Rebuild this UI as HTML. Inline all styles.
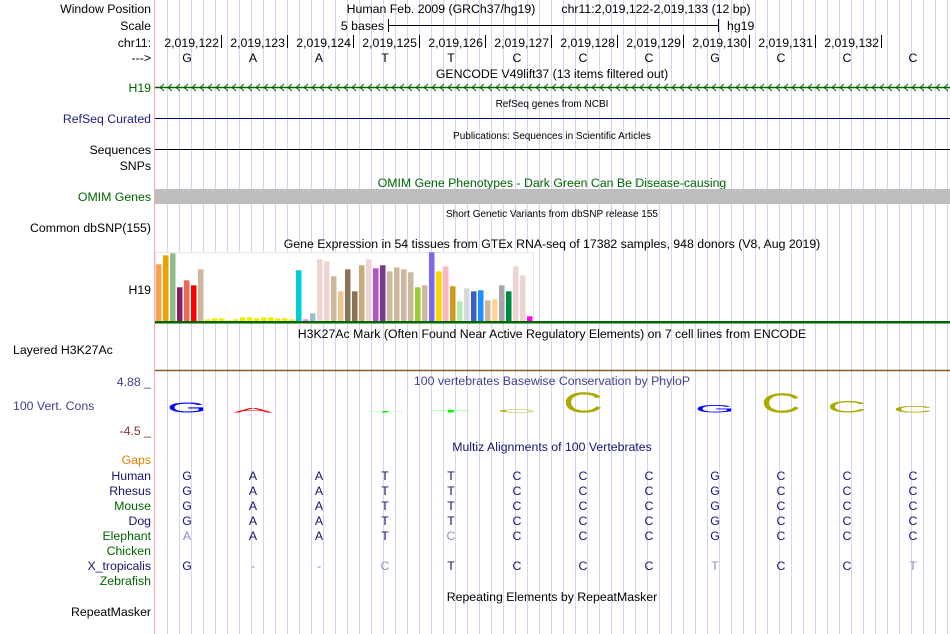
<!DOCTYPE html>
<html><head><meta charset="utf-8"><style>
body{margin:0;background:#fff}
svg{display:block;font-family:"Liberation Sans",sans-serif}
</style></head><body>
<svg id="s" width="950" height="634" viewBox="0 0 950 634">
<g id="grid"></g>
<line x1="154.5" y1="0" x2="154.5" y2="634" stroke="#ffaaaa" stroke-width="1"/>
<g font-size="12.3" text-anchor="end">
<text x="151" y="13" fill="#000">Window Position</text>
<text x="151" y="30" fill="#000">Scale</text>
<text x="151" y="47" fill="#000">chr11:</text>
<text x="151" y="62" fill="#000">---&gt;</text>
<text x="151" y="92" fill="#006400">H19</text>
<text x="151" y="123" fill="#202080">RefSeq Curated</text>
<text x="151" y="154" fill="#000">Sequences</text>
<text x="151" y="170" fill="#000">SNPs</text>
<text x="151" y="201" fill="#006400">OMIM Genes</text>
<text x="151" y="232" fill="#000">Common dbSNP(155)</text>
<text x="151" y="294" fill="#000">H19</text>
<text x="13" y="354" fill="#000" text-anchor="start">Layered H3K27Ac</text>
<text x="151" y="386" fill="#404090">4.88 _</text>
<text x="13" y="410" fill="#404090" text-anchor="start">100 Vert. Cons</text>
<text x="151" y="435" fill="#803030">-4.5 _</text>
<text x="151" y="464" fill="#e08000">Gaps</text>
<text x="151" y="480" fill="#141470">Human</text>
<text x="151" y="495" fill="#141470">Rhesus</text>
<text x="151" y="510" fill="#006400">Mouse</text>
<text x="151" y="525" fill="#141470">Dog</text>
<text x="151" y="540" fill="#006400">Elephant</text>
<text x="151" y="555" fill="#006400">Chicken</text>
<text x="151" y="570" fill="#141470">X_tropicalis</text>
<text x="151" y="585" fill="#006400">Zebrafish</text>
<text x="151" y="616" fill="#000">RepeatMasker</text>
</g>
<g font-size="12.3" text-anchor="middle" fill="#000">
<text x="441" y="13">Human Feb. 2009 (GRCh37/hg19)</text>
<text x="656" y="13">chr11:2,019,122-2,019,133 (12 bp)</text>
<text x="552" y="78">GENCODE V49lift37 (13 items filtered out)</text>
<text x="552" y="107" font-size="10">RefSeq genes from NCBI</text>
<text x="552" y="139" font-size="10">Publications: Sequences in Scientific Articles</text>
<text x="552" y="187" fill="#006400">OMIM Gene Phenotypes - Dark Green Can Be Disease-causing</text>
<text x="552" y="217" font-size="10">Short Genetic Variants from dbSNP release 155</text>
<text x="552" y="248">Gene Expression in 54 tissues from GTEx RNA-seq of 17382 samples, 948 donors (V8, Aug 2019)</text>
<text x="552" y="338">H3K27Ac Mark (Often Found Near Active Regulatory Elements) on 7 cell lines from ENCODE</text>
<text x="552" y="385" fill="#404090">100 vertebrates Basewise Conservation by PhyloP</text>
<text x="552" y="451" fill="#141470">Multiz Alignments of 100 Vertebrates</text>
<text x="552" y="601">Repeating Elements by RepeatMasker</text>
</g>
<g>
<text x="384" y="30" font-size="12.3" text-anchor="end">5 bases</text>
<line x1="388" y1="25.5" x2="718" y2="25.5" stroke="#000"/>
<line x1="388.5" y1="19" x2="388.5" y2="32" stroke="#000"/>
<line x1="718.5" y1="19" x2="718.5" y2="32" stroke="#000"/>
<text x="727" y="30" font-size="12.3">hg19</text>
</g>
<g id="ruler"></g>
<g id="h19"><line x1="155" y1="87.5" x2="950" y2="87.5" stroke="#006400" stroke-width="1.5"/></g>
<line x1="155" y1="118.5" x2="950" y2="118.5" stroke="#000080"/>
<line x1="155" y1="149.5" x2="950" y2="149.5" stroke="#000"/>
<rect x="155" y="189" width="795" height="15" fill="#bebebe"/>
<rect x="155.5" y="252.5" width="378" height="69" fill="#fff" stroke="#e4e4e4"/>
<g id="gtex"></g>
<rect x="155" y="321" width="795" height="2.5" fill="#006400"/>
<line x1="155" y1="370.5" x2="950" y2="370.5" stroke="#806020" stroke-width="1.5"/>
<g id="cons"></g>
<g id="maf" font-size="12.3" text-anchor="middle"></g>
</svg>
<script>
const NS="http://www.w3.org/2000/svg";
const bases=["G","A","A","T","T","C","C","C","G","C","C","C"];
const positions=["2,019,122","2,019,123","2,019,124","2,019,125","2,019,126","2,019,127","2,019,128","2,019,129","2,019,130","2,019,131","2,019,132"];
const gtexValues=[56.7,65.7,67.7,33.7,40.7,35.7,51.7,1.7,2.7,2.7,0.7,1.7,3.7,3.7,2.7,3.7,3.7,2.7,2.7,1.7,50.7,1.7,7.7,61.7,59.7,44.7,29.7,51.7,29.7,55.7,61.7,52.7,55.7,49.7,53.7,51.7,48.7,33.7,35.7,68.7,49.7,54.7,34.7,19.7,32.7,29.7,30.7,20.7,21.7,35.7,29.7,54.7,45.7,4.7];
const gtexColors=["#f9a14e","#f0a000","#8fbc8f","#8b1c62","#ee6a50","#ff0000","#cdb79e","#eeee00","#eeee00","#eeee00","#eeee00","#eeee00","#eeee00","#eeee00","#eeee00","#eeee00","#eeee00","#eeee00","#eeee00","#eeee00","#00ced1","#ee82ee","#9ac0cd","#eed5d2","#eed5d2","#cdb79e","#eec591","#8b7355","#8b7355","#cdaa7d","#eed5d2","#b452cd","#7a378b","#cdb79e","#cdb79e","#cdb79e","#cdb79e","#9acd32","#cdb79e","#7b68ee","#ffd700","#ffb6c1","#cd9b1d","#b4eeb4","#d9d9d9","#3a5fcd","#1e90ff","#cdb79e","#ffd39b","#a6a6a6","#008b45","#eed5d2","#eed5d2","#ff00ff"];
const consScores=[2.2,0.9,0,0.2,0.5,0.6,4.2,0,1.6,4.0,2.4,1.3];
const consColors=["#0000ff","#ff0000","#00ff00","#00ff00","#00ff00","#aaaa00","#aaaa00","#aaaa00","#0000ff","#aaaa00","#aaaa00","#aaaa00"];
const species=["Human","Rhesus","Mouse","Dog","Elephant","Chicken","X_tropicalis","Zebrafish"];
const alignments=["GAATTCCCGCCC","GAATTCCCGCCC","GAATTCCCGCCC","GAATTCCCGCCC","aAATcCCCGCCC","            ","G--cTCCCtCCt","            "];
const xBase=i=>187+i*66;
const yGtex=v=>321-v*1.0;
const yConsH=v=>v*5;
function mk(t,a,p){const e=document.createElementNS(NS,t);for(const k in a)e.setAttribute(k,a[k]);(p||document.getElementById('s')).appendChild(e);return e;}
const grid=document.getElementById('grid');
for(let x=167.5;x<950;x+=12){const l=mk('line',{x1:x,y1:0,x2:x,y2:634,stroke:'#d4d4f4'},grid);

}
const ruler=document.getElementById('ruler');
positions.forEach((p,i)=>{const tx=221+i*66;
const t=mk('text',{x:tx-2,y:47,'font-size':12.3,'text-anchor':'end'},ruler);t.textContent=p;


const l=mk('line',{x1:tx+0.5,y1:35,x2:tx+0.5,y2:48,stroke:'#000'},ruler);

});
bases.forEach((b,i)=>{const t=mk('text',{x:xBase(i),y:62,'font-size':12.3,'text-anchor':'middle'},ruler);t.textContent=b;

});
const h19=document.getElementById('h19');
for(let x=160;x<950;x+=8){const a=mk('path',{d:`M${x+4} 84 L${x} 87.5 L${x+4} 91`,fill:'none',stroke:'#006400'},h19);

}
const g=document.getElementById('gtex');
gtexValues.forEach((v,i)=>{const y=yGtex(v);const r=mk('rect',{x:156+i*7,y:y,width:5.5,height:321-y,fill:gtexColors[i]},g);

});
const c=document.getElementById('cons');
consScores.forEach((v,i)=>{if(v<=0)return;const h=yConsH(v);
const t=mk('text',{x:0,y:0,'font-size':20,'text-anchor':'middle',fill:consColors[i],textLength:40,lengthAdjust:'spacingAndGlyphs',transform:`translate(${xBase(i)},412.5) scale(1,${h/14.5})`},c);
t.textContent=bases[i];

});
const m=document.getElementById('maf');
alignments.forEach((row,r)=>{for(let i=0;i<row.length;i++){const ch=row[i];if(ch===' ')continue;
const light=(ch===ch.toLowerCase()&&ch!=='-')||ch==='-';
const t=mk('text',{x:xBase(i),y:480+r*15,fill:light?'#8c8cc0':'#141470'},m);t.textContent=ch.toUpperCase();

}});
</script>
</body></html>
